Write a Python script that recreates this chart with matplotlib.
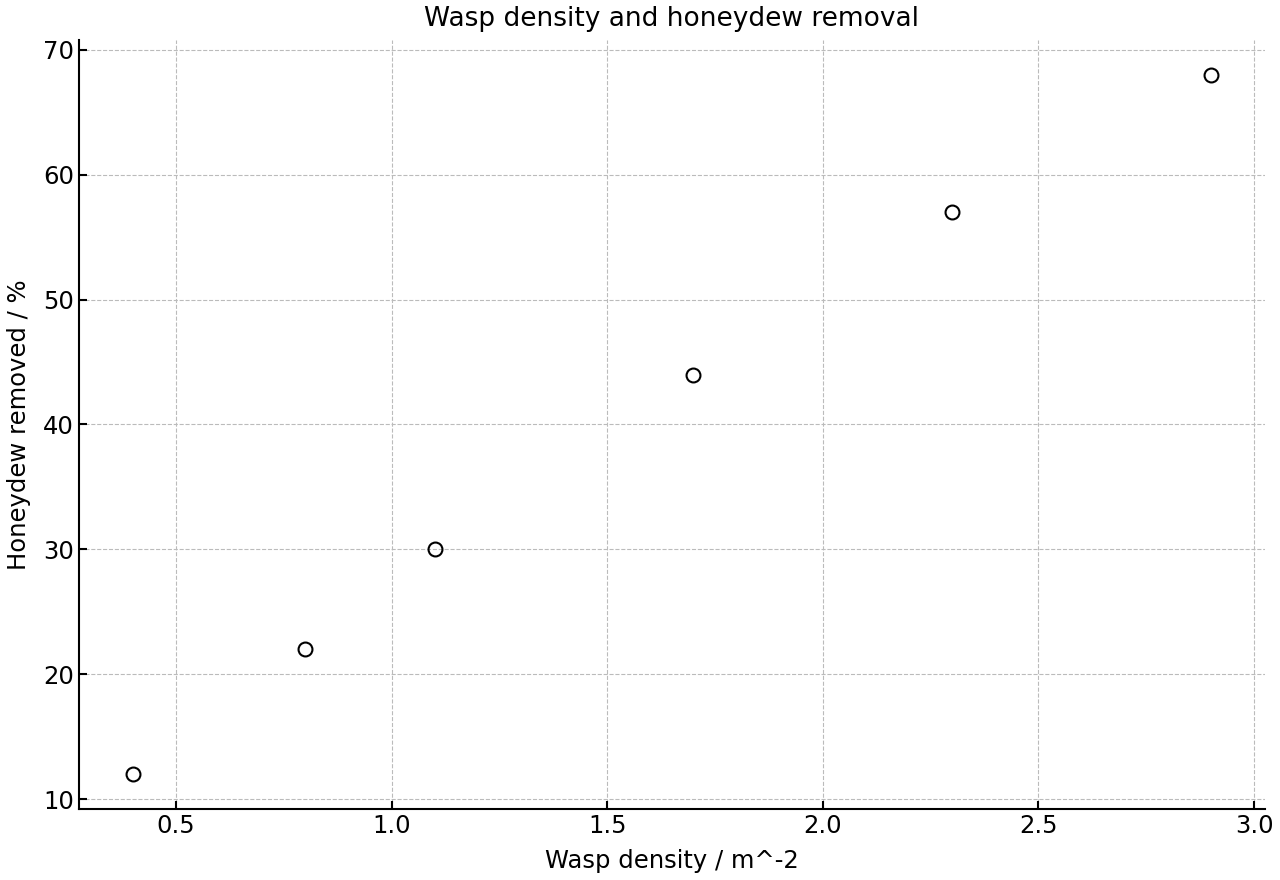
import matplotlib
matplotlib.use("Agg")
import matplotlib.pyplot as plt

density = [0.4, 0.8, 1.1, 1.7, 2.3, 2.9]
removed = [12, 22, 30, 44, 57, 68]
xticks = [0.5, 1.0, 1.5, 2.0, 2.5, 3.0]
yticks = [10, 20, 30, 40, 50, 60, 70]

fig = plt.figure(figsize=(12.8, 8.8), dpi=100)
ax = fig.add_axes([79 / 1280, 1 - 809 / 880, (1265 - 79) / 1280, (809 - 40) / 880])

ax.plot(density, removed, linestyle="none", marker="o", markersize=10,
        markerfacecolor="none", markeredgecolor="black", markeredgewidth=1.5)

ax.set_xlim(0.275, 3.0255)
ax.set_ylim(9.2, 70.8)
ax.set_xticks(xticks)
ax.set_yticks(yticks)
ax.tick_params(labelsize=17.5, direction="in", length=6, width=1.5)
ax.grid(True, linestyle="--", color="#bbbbbb", linewidth=0.8)
ax.set_axisbelow(True)
for side in ["top", "right"]:
    ax.spines[side].set_visible(False)
for side in ["left", "bottom"]:
    ax.spines[side].set_linewidth(1.5)

ax.set_xlabel("Wasp density / m^-2", fontsize=17.5, labelpad=8)
ax.set_ylabel("Honeydew removed / %", fontsize=17.5, labelpad=9)
ax.set_title("Wasp density and honeydew removal", fontsize=19, pad=10)

fig.savefig("out.png", dpi=100)
